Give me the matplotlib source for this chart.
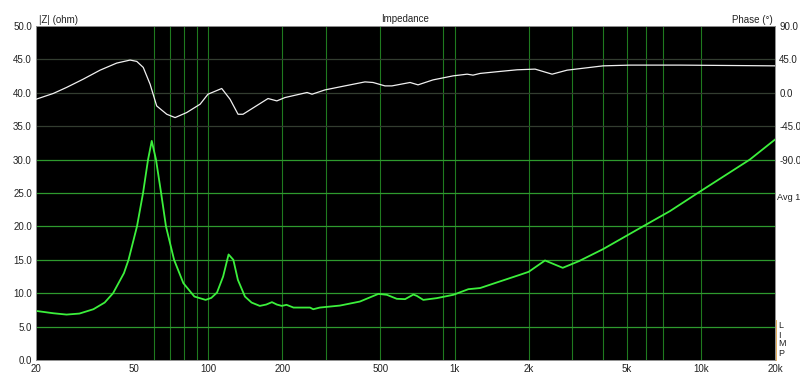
import matplotlib
matplotlib.use('Agg')
import numpy as np
import matplotlib.pyplot as plt

plt.rcParams['font.family'] = ['Liberation Sans', 'DejaVu Sans']

# impedance magnitude |Z| (ohm)
z_freq = [20, 23.5, 26.6, 30, 34.2, 38, 41.1, 45.5, 47.5, 51.4, 54.4, 57.0, 59.0,
          61.4, 64.4, 67.4, 72.7, 79.3, 87.9, 97.6, 103, 108.6, 115, 121, 126.5,
          132, 141, 150, 162, 172, 181.5, 190, 199, 208, 222, 259, 267, 284, 343,
          413, 491, 531, 583, 630, 681, 703, 747, 847, 989, 1138, 1270, 1483,
          1845, 2000, 2330, 2750, 3200, 4010, 5820, 7500, 10000, 15800, 20000]
z_ohm = [7.35, 7.0, 6.8, 6.95, 7.6, 8.6, 10.0, 13.0, 15.0, 20.0, 25.0, 30.0, 32.8,
         30.0, 25.0, 20.0, 15.0, 11.5, 9.5, 9.0, 9.3, 10.1, 12.5, 15.8, 15.0,
         12.0, 9.5, 8.6, 8.1, 8.3, 8.66, 8.3, 8.1, 8.26, 7.85, 7.85, 7.6, 7.85, 8.15,
         8.75, 9.9, 9.76, 9.16, 9.11, 9.8, 9.6, 9.0, 9.26, 9.76, 10.6, 10.77, 11.6,
         12.76, 13.2, 14.9, 13.8, 14.8, 16.6, 20.0, 22.3, 25.3, 30.0, 33.0]

# phase (degrees)
ph_freq = [20, 23.5, 26.6, 31.1, 36.4, 42.5, 48.2, 51.3, 54.5, 58.1, 61.8, 67.9,
           73.4, 81.8, 92.7, 99.8, 113.5, 122.7, 132.2, 138.5, 175, 190, 205, 252,
           264, 298, 343, 433, 467, 522, 557, 660, 711, 818, 986, 1125, 1189, 1270,
           1531, 1795, 2124, 2490, 2864, 4009, 5164, 8242, 20000]
ph_deg = [-8.7, -0.9, 7.2, 18.4, 30.5, 40.0, 44.1, 42.3, 34.2, 11.6, -17.7, -28.9,
          -33.4, -26.6, -15.4, -1.9, 5.8, -8.7, -28.9, -28.9, -7.7, -10.9, -6.4, 0.4,
          -1.9, 3.9, 8.0, 14.7, 13.9, 9.3, 9.3, 13.9, 10.7, 17.4, 22.8, 25.1, 23.8, 26.1,
          28.8, 31.0, 31.9, 25.1, 30.5, 36.3, 37.3, 37.3, 36.3]

x_ticks = [20, 50, 100, 200, 500, 1000, 2000, 5000, 10000, 20000]
x_labels = ['20', '50', '100', '200', '500', '1k', '2k', '5k', '10k', '20k']
y_ticks = [0, 5, 10, 15, 20, 25, 30, 35, 40, 45, 50]
ph_ticks = [90, 45, 0, -45, -90]
v_grid = [60, 70, 80, 90, 100, 200, 300, 500, 900, 1000, 2000, 3000, 4000,
          5000, 6000, 7000, 10000]

fig = plt.figure(figsize=(8, 3.76), dpi=100)
ax = fig.add_axes([36 / 800, 16 / 376, 739 / 800, 334 / 376])
ax.set_facecolor('black')
ax.set_xscale('log')
ax.set_xlim(20, 20000)
ax.set_ylim(0, 50)

for f in v_grid:
    ax.axvline(f, color='#1f7a1f', lw=0.8, zorder=1)
for y in y_ticks[1:-1]:
    c = '#2e9a2e' if y <= 30 else '#333d30'
    ax.axhline(y, color=c, lw=0.9, zorder=1)

ax.plot(z_freq, z_ohm, color='#3cf03c', lw=1.3, zorder=3)

ax.set_xticks(x_ticks)
ax.set_xticklabels(x_labels)
ax.xaxis.set_minor_locator(matplotlib.ticker.NullLocator())
ax.set_yticks(y_ticks)
ax.set_yticklabels(['%.1f' % v for v in y_ticks])
ax.tick_params(length=0, labelsize=7, colors='#222222', pad=3)

ax2 = ax.twinx()
ax2.set_ylim(-360, 90)
ax2.plot(ph_freq, ph_deg, color='#f0f0f0', lw=0.9, zorder=4)
ax2.set_yticks(ph_ticks)
ax2.set_yticklabels(['%.1f' % v for v in ph_ticks])
ax2.tick_params(length=0, labelsize=7, colors='#222222', pad=3)

for a in (ax, ax2):
    for s in a.spines.values():
        s.set_color('#909090')
        s.set_linewidth(0.6)

fig.text(39 / 800, 1 - 20 / 376, '|Z| (ohm)', fontsize=7, color='#222222', va='center')
fig.text(405 / 800, 1 - 19 / 376, 'Impedance', fontsize=7, color='#222222',
         ha='center', va='center')
fig.text(773 / 800, 1 - 20 / 376, 'Phase (\u00b0)', fontsize=7, color='#222222',
         ha='right', va='center')
fig.text(777 / 800, 1 - 198 / 376, 'Avg 1', fontsize=6.6, color='#222222', va='center')
for i, ch in enumerate('LIMP'):
    fig.text(778 / 800, 1 - (326 + i * 9) / 376, ch, fontsize=6.5, color='#222222',
             va='center')
fig.add_artist(plt.Line2D([776 / 800, 776 / 800], [16 / 376, 56 / 376],
                          color='#e0a040', lw=0.6))

fig.savefig('out.png', dpi=100, facecolor='white')
